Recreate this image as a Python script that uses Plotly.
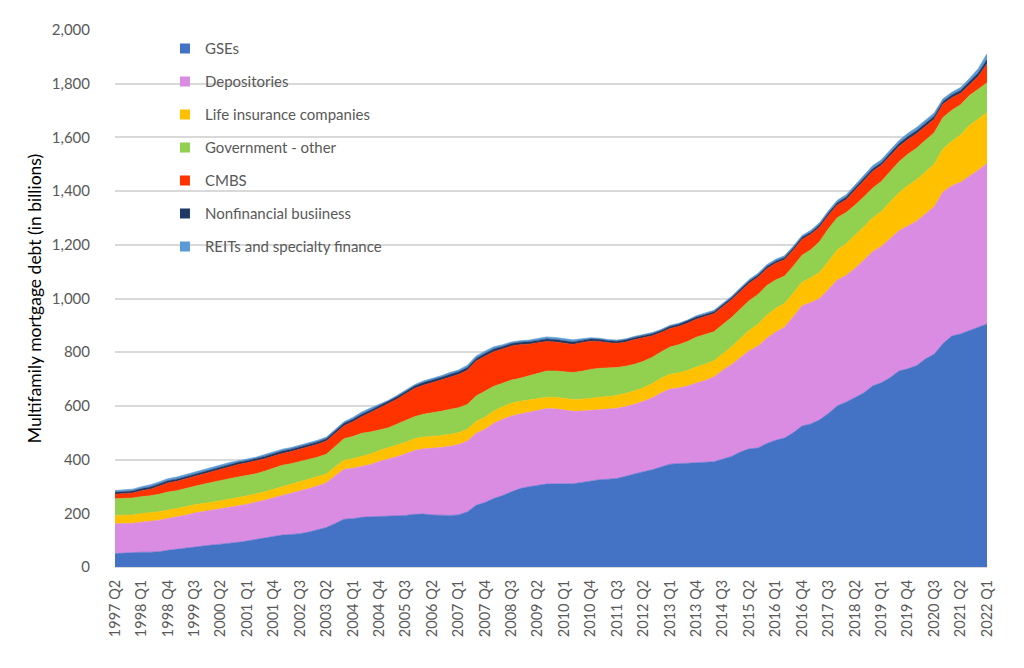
import plotly.graph_objects as go

# Quarterly categories 1997 Q2 .. 2022 Q1
quarters = []
for yr in range(1997, 2023):
    for q in range(1, 5):
        if (yr == 1997 and q < 2) or (yr == 2022 and q > 1):
            continue
        quarters.append(f"{yr} Q{q}")

tick_labels = quarters[::3]

gses = [50, 52, 54, 55, 55, 57, 62, 66, 71, 76,
        79, 82, 85, 88, 92, 97, 103, 109, 115, 119,
        121, 124, 130, 138, 147, 162, 178, 180, 185, 187,
        188, 189, 189, 192, 196, 197, 194, 192, 192, 194,
        205, 230, 240, 255, 266, 280, 292, 299, 305, 309,
        310, 310, 310, 315, 321, 325, 327, 330, 338, 347,
        355, 362, 372, 383, 385, 386, 389, 390, 392, 403,
        412, 428, 440, 443, 460, 472, 480, 500, 525, 533,
        548, 572, 600, 614, 630, 648, 674, 686, 705, 730,
        738, 750, 775, 792, 832, 860, 868, 880, 893, 905]

depositories = [111, 110, 109, 112, 115, 117, 119, 120, 122, 125,
                127, 129, 132, 134, 136, 137, 138, 140, 143, 147,
                153, 159, 162, 164, 167, 178, 186, 188, 190, 195,
                205, 212, 222, 230, 238, 243, 248, 253, 258, 262,
                264, 268, 273, 280, 284, 282, 278, 278, 280, 281,
                279, 275, 270, 266, 263, 262, 262, 261, 260, 259,
                262, 268, 276, 280, 282, 288, 296, 305, 316, 330,
                342, 352, 365, 379, 392, 403, 413, 432, 448, 452,
                452, 462, 469, 472, 482, 494, 500, 508, 518, 522,
                532, 538, 540, 550, 565, 560, 565, 575, 585, 598]

life_insurance = [31, 31, 31, 32, 32, 32, 31, 31, 31, 31,
                  30, 30, 30, 30, 31, 31, 31, 31, 32, 33,
                  34, 35, 34, 33, 32, 33, 34, 35, 37, 39,
                  41, 42, 43, 43, 44, 44, 44, 44, 44, 44,
                  44, 44, 45, 46, 47, 48, 47, 45, 43, 42,
                  43, 44, 44, 44, 45, 46, 47, 48, 49, 50,
                  51, 53, 55, 55, 56, 58, 60, 60, 60, 62,
                  66, 71, 76, 82, 86, 88, 88, 88, 88, 92,
                  98, 104, 112, 118, 122, 124, 126, 130, 136, 142,
                  150, 154, 156, 158, 160, 166, 176, 190, 190, 190]

government_other = [62, 62, 63, 63, 63, 65, 67, 67, 68, 70,
                    72, 74, 76, 77, 76, 75, 75, 77, 79, 80,
                    77, 75, 74, 74, 74, 77, 80, 83, 86, 82,
                    76, 75, 78, 80, 82, 85, 88, 91, 93, 93,
                    92, 95, 97, 92, 87, 86, 86, 90, 95, 98,
                    98, 98, 100, 104, 107, 107, 105, 104, 101, 99,
                    98, 98, 98, 101, 105, 108, 111, 110, 108, 108,
                    109, 110, 111, 111, 110, 106, 102, 100, 100, 105,
                    114, 122, 120, 116, 113, 112, 111, 112, 114, 115,
                    117, 118, 118, 117, 117, 115, 113, 111, 111, 111]

cmbs = [17, 18, 19, 22, 25, 30, 34, 35, 36, 37,
        39, 41, 43, 45, 47, 48, 48, 46, 44, 44,
        45, 46, 47, 48, 49, 46, 48, 55, 62, 72,
        82, 88, 93, 100, 105, 108, 112, 116, 120, 124,
        128, 130, 130, 129, 128, 127, 125, 118, 112, 110,
        108, 106, 105, 107, 105, 100, 94, 90, 90, 92,
        88, 80, 72, 69, 68, 68, 67, 67, 67, 66,
        66, 65, 65, 64, 63, 62, 61, 60, 59, 57,
        54, 50, 47, 48, 55, 60, 62, 60, 58, 57,
        55, 54, 52, 51, 50, 47, 42, 38, 48, 70]

nonfinancial = [7, 7, 7, 8, 8, 8, 8, 8, 8, 8,
                8, 8, 8, 8, 8, 8, 8, 9, 9, 9,
                9, 9, 9, 9, 9, 9, 9, 9, 9, 9,
                9, 9, 9, 9, 9, 10, 10, 10, 10, 10,
                10, 10, 10, 10, 9, 9, 9, 9, 9, 9,
                9, 9, 9, 8, 8, 8, 8, 8, 8, 8,
                8, 8, 8, 8, 8, 8, 8, 8, 8, 8,
                8, 8, 8, 8, 8, 8, 8, 8, 8, 8,
                9, 9, 9, 9, 10, 10, 10, 10, 11, 11,
                11, 11, 11, 11, 10, 10, 11, 12, 13, 16]

reits = [7, 7, 7, 7, 8, 8, 8, 8, 8, 8,
         7, 7, 7, 7, 6, 6, 6, 7, 7, 7,
         6, 6, 6, 6, 6, 6, 6, 7, 8, 8,
         5, 5, 5, 5, 5, 6, 6, 6, 7, 7,
         8, 9, 9, 8, 7, 6, 6, 6, 7, 8,
         8, 8, 8, 6, 5, 4, 4, 4, 4, 4,
         4, 4, 4, 4, 4, 4, 5, 5, 5, 5,
         5, 6, 6, 7, 7, 7, 7, 7, 7, 7,
         8, 8, 9, 9, 10, 10, 11, 11, 11, 11,
         12, 12, 12, 12, 10, 10, 11, 13, 16, 22]

series = [
    ("GSEs", gses, "#4472C4"),
    ("Depositories", depositories, "#DA8CE3"),
    ("Life insurance companies", life_insurance, "#FFC000"),
    ("Government - other", government_other, "#92D050"),
    ("CMBS", cmbs, "#FF3300"),
    ("Nonfinancial busiiness", nonfinancial, "#203864"),
    ("REITs and specialty finance", reits, "#5B9BD5"),
]

FONT = "Lato"

fig = go.Figure()
for name, vals, col in series:
    fig.add_trace(go.Scatter(
        x=quarters, y=vals, name=name, mode="lines",
        stackgroup="one", fillcolor=col,
        line=dict(color=col, width=0.6),
        legendgroup=name, showlegend=False,
    ))
# legend entries with small square swatches (as in the reference)
for name, vals, col in series:
    fig.add_trace(go.Scatter(
        x=[None], y=[None], name=name, mode="markers",
        marker=dict(symbol="square", size=10, color=col),
        legendgroup=name, showlegend=True, hoverinfo="skip",
    ))

fig.update_layout(
    width=1024, height=668,
    paper_bgcolor="white", plot_bgcolor="white",
    margin=dict(l=107, r=45, t=18, b=109),
    font=dict(family=FONT, color="#595959", size=15),
    showlegend=True,
    legend=dict(
        x=0.0573, y=0.996, xanchor="left", yanchor="top",
        bgcolor="rgba(0,0,0,0)", traceorder="grouped",
        tracegroupgap=10.5, font=dict(size=15, color="#595959"),
        itemwidth=30,
    ),
    xaxis=dict(
        type="category", categoryorder="array", categoryarray=quarters,
        tickmode="array", tickvals=tick_labels, ticktext=tick_labels,
        tickangle=-90, tickfont=dict(size=14.5, color="#595959"),
        range=[0, len(quarters) - 1], showgrid=False,
        showline=True, linecolor="#D9D9D9", ticks="",
        ticklabelstandoff=6, fixedrange=True,
    ),
    yaxis=dict(
        range=[0, 2000], tickvals=list(range(0, 2001, 200)),
        tickformat=",d", showgrid=True, gridcolor="#D9D9D9", gridwidth=1.5,
        zeroline=False, ticks="", tickfont=dict(size=15, color="#595959"),
        ticklabelstandoff=24,
        title=dict(text="Multifamily mortgage debt (in billions)",
                   font=dict(size=17.5, color="#000000"), standoff=5),
    ),
)

fig.write_html("out.html")
